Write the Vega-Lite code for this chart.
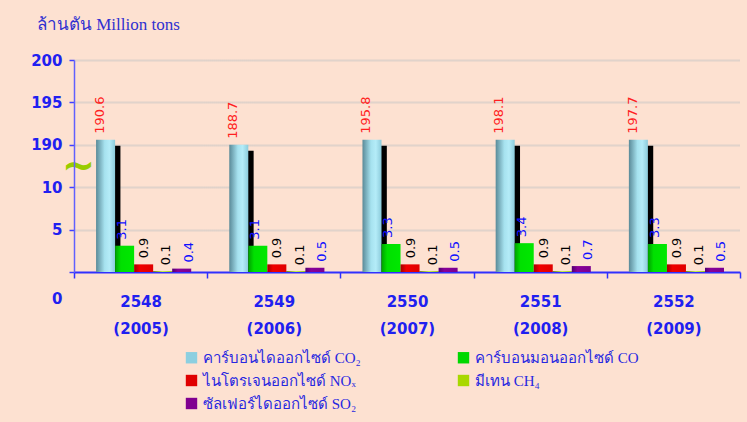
{
  "$schema": "https://vega.github.io/schema/vega-lite/v6.json",
  "width": 666,
  "height": 212,
  "autosize": {"type": "none"},
  "padding": {"left": 74, "top": 60, "right": 7, "bottom": 150},
  "background": "#fde1d1",
  "title": {
    "text": "ล้านตัน  Million tons",
    "anchor": "start",
    "frame": "group",
    "dx": -37,
    "offset": 6,
    "baseline": "alphabetic",
    "font": "Liberation Serif, serif",
    "fontSize": 17,
    "fontWeight": "normal",
    "color": "#3030d0"
  },
  "config": {
    "view": {"stroke": null},
    "font": "DejaVu Sans"
  },
  "data": {
    "values": [
      {"year": "2548 (2005)", "gas": "คาร์บอนไดออกไซด์  CO₂", "value": "190.6", "bar": 190.6},
      {"year": "2548 (2005)", "gas": "คาร์บอนมอนออกไซด์  CO", "value": "3.1", "bar": 3.1},
      {"year": "2548 (2005)", "gas": "ไนโตรเจนออกไซด์ NOₓ", "value": "0.9", "bar": 0.9},
      {"year": "2548 (2005)", "gas": "มีเทน  CH₄", "value": "0.1", "bar": 0.1},
      {"year": "2548 (2005)", "gas": "ซัลเฟอร์ไดออกไซด์  SO₂", "value": "0.4", "bar": 0.4},
      {"year": "2549 (2006)", "gas": "คาร์บอนไดออกไซด์  CO₂", "value": "188.7", "bar": 189.9},
      {"year": "2549 (2006)", "gas": "คาร์บอนมอนออกไซด์  CO", "value": "3.1", "bar": 3.1},
      {"year": "2549 (2006)", "gas": "ไนโตรเจนออกไซด์ NOₓ", "value": "0.9", "bar": 0.9},
      {"year": "2549 (2006)", "gas": "มีเทน  CH₄", "value": "0.1", "bar": 0.1},
      {"year": "2549 (2006)", "gas": "ซัลเฟอร์ไดออกไซด์  SO₂", "value": "0.5", "bar": 0.5},
      {"year": "2550 (2007)", "gas": "คาร์บอนไดออกไซด์  CO₂", "value": "195.8", "bar": 190.6},
      {"year": "2550 (2007)", "gas": "คาร์บอนมอนออกไซด์  CO", "value": "3.3", "bar": 3.3},
      {"year": "2550 (2007)", "gas": "ไนโตรเจนออกไซด์ NOₓ", "value": "0.9", "bar": 0.9},
      {"year": "2550 (2007)", "gas": "มีเทน  CH₄", "value": "0.1", "bar": 0.1},
      {"year": "2550 (2007)", "gas": "ซัลเฟอร์ไดออกไซด์  SO₂", "value": "0.5", "bar": 0.5},
      {"year": "2551 (2008)", "gas": "คาร์บอนไดออกไซด์  CO₂", "value": "198.1", "bar": 190.6},
      {"year": "2551 (2008)", "gas": "คาร์บอนมอนออกไซด์  CO", "value": "3.4", "bar": 3.4},
      {"year": "2551 (2008)", "gas": "ไนโตรเจนออกไซด์ NOₓ", "value": "0.9", "bar": 0.9},
      {"year": "2551 (2008)", "gas": "มีเทน  CH₄", "value": "0.1", "bar": 0.1},
      {"year": "2551 (2008)", "gas": "ซัลเฟอร์ไดออกไซด์  SO₂", "value": "0.7", "bar": 0.7},
      {"year": "2552 (2009)", "gas": "คาร์บอนไดออกไซด์  CO₂", "value": "197.7", "bar": 190.6},
      {"year": "2552 (2009)", "gas": "คาร์บอนมอนออกไซด์  CO", "value": "3.3", "bar": 3.3},
      {"year": "2552 (2009)", "gas": "ไนโตรเจนออกไซด์ NOₓ", "value": "0.9", "bar": 0.9},
      {"year": "2552 (2009)", "gas": "มีเทน  CH₄", "value": "0.1", "bar": 0.1},
      {"year": "2552 (2009)", "gas": "ซัลเฟอร์ไดออกไซด์  SO₂", "value": "0.5", "bar": 0.5}
    ]
  },
  "resolve": {"scale": {"xOffset": "independent"}},
  "encoding": {
    "x": {
      "field": "year",
      "type": "nominal",
      "sort": null,
      "scale": {"paddingInner": 0, "paddingOuter": 0},
      "axis": {
        "title": null,
        "labelAngle": 0,
        "labelExpr": "split(datum.label, ' ')",
        "labelLineHeight": 27,
        "labelPadding": 16,
        "labelFont": "DejaVu Sans",
        "labelFontSize": 15,
        "labelFontWeight": "bold",
        "labelColor": "#2020f0",
        "tickBand": "extent",
        "tickColor": "#3030ff",
        "tickSize": 6,
        "tickWidth": 1.5,
        "domainColor": "#3030ff",
        "domainWidth": 2,
        "grid": false
      }
    },
    "y": {
      "field": "bar",
      "type": "quantitative",
      "scale": {
        "domain": [0, 10, 190, 200],
        "range": [212, 127.2, 84.8, 0],
        "nice": false,
        "zero": false
      },
      "axis": {
        "title": null,
        "values": [0, 5, 10, 100, 190, 195, 200],
        "labelExpr": "datum.value === 100 ? '~' : datum.label",
        "labelFont": "DejaVu Sans",
        "labelFontSize": {"condition": {"test": "datum.value === 100", "value": 40}, "value": 15},
        "labelFontWeight": "bold",
        "labelColor": {"condition": {"test": "datum.value === 100", "value": "#99cc00"}, "value": "#2020f0"},
        "labelPadding": {"condition": {"test": "datum.value === 100", "value": -9}, "value": 7},
        "labelAlign": {"condition": {"test": "datum.value === 100", "value": "center"}, "value": "right"},
        "labelOffset": {"condition": {"test": "datum.value === 0", "value": 26}, "value": 0},
        "tickColor": "#4040ff",
        "tickSize": 5,
        "tickWidth": 1.5,
        "tickOpacity": {"condition": {"test": "datum.value === 100", "value": 0}, "value": 1},
        "domainColor": "#6060ff",
        "domainWidth": 1.5,
        "grid": true,
        "gridColor": "#c4c4c4",
        "gridWidth": 2,
        "gridDash": [1, 1],
        "gridOpacity": {"condition": {"test": "datum.value === 100 || datum.value === 0", "value": 0}, "value": 1},
        "labelBound": false,
        "labelOverlap": false
      }
    }
  },
  "layer": [
    {
      "transform": [{"filter": "datum.gas === 'คาร์บอนไดออกไซด์  CO₂'"}],
      "mark": {"type": "bar", "color": "#000000", "yOffset": 6, "clip": true},
      "encoding": {
        "xOffset": {
          "field": "gas",
          "type": "nominal",
          "scale": {
            "domain": ["คาร์บอนไดออกไซด์  CO₂", "คาร์บอนมอนออกไซด์  CO", "ไนโตรเจนออกไซด์ NOₓ", "มีเทน  CH₄", "ซัลเฟอร์ไดออกไซด์  SO₂"],
            "paddingInner": 0,
            "paddingOuter": 1.2,
            "align": 0.72
          }
        }
      }
    },
    {
      "mark": {"type": "bar"},
      "encoding": {
        "xOffset": {
          "field": "gas",
          "type": "nominal",
          "scale": {
            "domain": ["คาร์บอนไดออกไซด์  CO₂", "คาร์บอนมอนออกไซด์  CO", "ไนโตรเจนออกไซด์ NOₓ", "มีเทน  CH₄", "ซัลเฟอร์ไดออกไซด์  SO₂"],
            "paddingInner": 0,
            "paddingOuter": 1.2,
            "align": 0.58
          }
        },
        "color": {
          "field": "gas",
          "type": "nominal",
          "scale": {
            "domain": ["คาร์บอนไดออกไซด์  CO₂", "ไนโตรเจนออกไซด์ NOₓ", "ซัลเฟอร์ไดออกไซด์  SO₂", "คาร์บอนมอนออกไซด์  CO", "มีเทน  CH₄"],
            "range": ["#8ccfe0", "#e00000", "#800090", "#00d800", "#a8d800"]
          },
          "condition": [
            {"test": "datum.gas === 'คาร์บอนไดออกไซด์  CO₂'", "value": {"gradient": "linear", "x1": 0, "x2": 1, "y1": 0, "y2": 0, "stops": [{"offset": 0, "color": "#5a8a98"}, {"offset": 0.45, "color": "#a6e2ef"}, {"offset": 0.7, "color": "#b4ecf8"}, {"offset": 1, "color": "#8ccbdb"}]}},
            {"test": "datum.gas === 'คาร์บอนมอนออกไซด์  CO'", "value": {"gradient": "linear", "x1": 0, "x2": 1, "y1": 0, "y2": 0, "stops": [{"offset": 0, "color": "#00a000"}, {"offset": 0.3, "color": "#00e000"}, {"offset": 1, "color": "#00e800"}]}},
            {"test": "datum.gas === 'ไนโตรเจนออกไซด์ NOₓ'", "value": {"gradient": "linear", "x1": 0, "x2": 1, "y1": 0, "y2": 0, "stops": [{"offset": 0, "color": "#a00000"}, {"offset": 0.3, "color": "#f00000"}, {"offset": 1, "color": "#e00000"}]}},
            {"test": "datum.gas === 'มีเทน  CH₄'", "value": {"gradient": "linear", "x1": 0, "x2": 1, "y1": 0, "y2": 0, "stops": [{"offset": 0, "color": "#6b7a00"}, {"offset": 0.5, "color": "#ccff33"}, {"offset": 1, "color": "#99cc00"}]}},
            {"test": "datum.gas === 'ซัลเฟอร์ไดออกไซด์  SO₂'", "value": {"gradient": "linear", "x1": 0, "x2": 1, "y1": 0, "y2": 0, "stops": [{"offset": 0, "color": "#500070"}, {"offset": 0.3, "color": "#880098"}, {"offset": 1, "color": "#7a0090"}]}}
          ],
          "legend": {
            "orient": "none",
            "legendX": 110,
            "legendY": 290,
            "title": null,
            "columns": 2,
            "columnPadding": 91,
            "rowPadding": 7,
            "symbolType": "square",
            "symbolSize": 130,
            "symbolStrokeWidth": 0,
            "labelFont": "Liberation Serif, serif",
            "labelFontSize": 15,
            "labelColor": "#2828e0",
            "labelLimit": 300,
            "encode": {
              "symbols": {
                "update": {
                  "fill": {"signal": "indexof(datum.value, 'CO₂') >= 0 ? {gradient: 'linear', x1: 0, y1: 0, x2: 1, y2: 0, stops: [{offset: 0, color: '#5a8a98'}, {offset: 0.6, color: '#b4ecf8'}, {offset: 1, color: '#8ccbdb'}]} : indexof(datum.value, 'NO') >= 0 ? {gradient: 'linear', x1: 0, y1: 0, x2: 1, y2: 0, stops: [{offset: 0, color: '#800000'}, {offset: 0.6, color: '#ff0000'}, {offset: 1, color: '#e00000'}]} : indexof(datum.value, 'SO') >= 0 ? {gradient: 'linear', x1: 0, y1: 0, x2: 1, y2: 0, stops: [{offset: 0, color: '#400060'}, {offset: 0.6, color: '#8a00a0'}, {offset: 1, color: '#7a0090'}]} : indexof(datum.value, 'CH') >= 0 ? {gradient: 'linear', x1: 0, y1: 0, x2: 1, y2: 0, stops: [{offset: 0, color: '#667000'}, {offset: 0.6, color: '#ddff33'}, {offset: 1, color: '#99cc00'}]} : {gradient: 'linear', x1: 0, y1: 0, x2: 1, y2: 0, stops: [{offset: 0, color: '#008000'}, {offset: 0.6, color: '#00ff00'}, {offset: 1, color: '#00dd00'}]}"}
                }
              }
            }
          }
        }
      }
    },
    {
      "mark": {"type": "text", "angle": 270, "align": "left", "baseline": "middle", "dx": 6, "font": "DejaVu Sans", "fontSize": 13},
      "encoding": {
        "xOffset": {
          "field": "gas",
          "type": "nominal",
          "scale": {
            "domain": ["คาร์บอนไดออกไซด์  CO₂", "คาร์บอนมอนออกไซด์  CO", "ไนโตรเจนออกไซด์ NOₓ", "มีเทน  CH₄", "ซัลเฟอร์ไดออกไซด์  SO₂"],
            "paddingInner": 0,
            "paddingOuter": 1.2,
            "align": 0.58
          }
        },
        "text": {"field": "value"},
        "color": {
          "condition": [
            {"test": "datum.gas === 'คาร์บอนไดออกไซด์  CO₂'", "value": "#ff2020"},
            {"test": "datum.gas === 'คาร์บอนมอนออกไซด์  CO' || datum.gas === 'ซัลเฟอร์ไดออกไซด์  SO₂'", "value": "#1010ff"}
          ],
          "value": "#000000"
        }
      }
    }
  ]
}
